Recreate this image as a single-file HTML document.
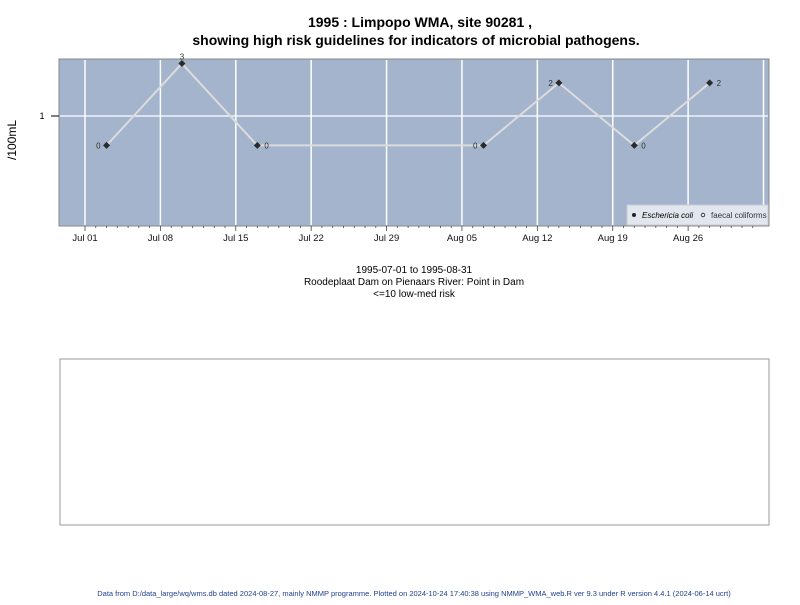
<!DOCTYPE html>
<html><head><meta charset="utf-8"><style>
body{margin:0;background:#fff;width:800px;height:600px;overflow:hidden;font-family:"Liberation Sans",sans-serif}
</style></head><body>
<svg width="800" height="600" xmlns="http://www.w3.org/2000/svg">
<text x="420" y="27" text-anchor="middle" font-size="14" font-weight="bold">1995 : Limpopo WMA, site 90281 ,</text>
<text x="416" y="45" text-anchor="middle" font-size="14" font-weight="bold">showing high risk guidelines for indicators of microbial pathogens.</text>
<rect x="59" y="59" width="710" height="167" fill="#a3b4cc" stroke="#8a8a8a"/>
<g id="grid"></g>
<g id="axis"></g>
<g id="series"></g>
<text x="16" y="140" transform="rotate(-90 16 140)" text-anchor="middle" font-size="12">/100mL</text>
<g>
<rect x="627" y="205" width="141" height="20" fill="#e2e6ee" stroke="#c8ccd4"/>
<circle cx="634" cy="215" r="2" fill="#222"/>
<text x="642" y="218" font-size="8" font-style="italic">Eschericia coli</text>
<circle cx="703" cy="215" r="1.8" fill="none" stroke="#222" stroke-width="0.8"/>
<text x="711" y="218" font-size="8" fill="#334">faecal coliforms</text>
</g>
<text x="414" y="273" text-anchor="middle" font-size="10">1995-07-01 to 1995-08-31</text>
<text x="414" y="285" text-anchor="middle" font-size="10">Roodeplaat Dam on Pienaars River: Point in Dam</text>
<text x="414" y="297" text-anchor="middle" font-size="10">&lt;=10 low-med risk</text>
<rect x="60" y="359" width="709" height="166" fill="#fff" stroke="#999"/>
<text x="414" y="596" text-anchor="middle" font-size="7.5" fill="#1f3f8f">Data from D:/data_large/wq/wms.db dated 2024-08-27, mainly NMMP programme. Plotted on 2024-10-24 17:40:38 using NMMP_WMA_web.R ver 9.3 under R version 4.4.1 (2024-06-14 ucrt)</text>
</svg>
<script>
const dates=["1995-07-03","1995-07-10","1995-07-17","1995-08-07","1995-08-14","1995-08-21","1995-08-28"];
const ecoli=[0,3,0,0,2,0,2];
const tickLabels=["Jul 01","Jul 08","Jul 15","Jul 22","Jul 29","Aug 05","Aug 12","Aug 19","Aug 26"];
const yTicks=[1];
const NS="http://www.w3.org/2000/svg";
const d0=Date.UTC(1995,6,1);
function day(s){const p=s.split("-");return (Date.UTC(+p[0],+p[1]-1,+p[2])-d0)/864e5;}
function X(d){return 85+d*10.77;}
function Y(v){const vv=v<=0?0.54:v;return 116-Math.log10(vv)*110;}
function mk(t,a,parent,txt){const e=document.createElementNS(NS,t);for(const k in a)e.setAttribute(k,a[k]);if(txt!=null)e.textContent=txt;parent.appendChild(e);return e;}
const grid=document.getElementById("grid"),axis=document.getElementById("axis"),ser=document.getElementById("series");
for(let i=0;i<=9;i++){const x=X(i*7);if(x>769)break;
const g=mk("line",{x1:x,x2:x,y1:60,y2:225,stroke:"#fff","stroke-width":1.5},grid);

}
yTicks.forEach(v=>{const y=Y(v);
const g=mk("line",{x1:60,x2:768,y1:y,y2:y,stroke:"#fff","stroke-width":1.2},grid);


const t=mk("line",{x1:51,x2:59,y1:y,y2:y,stroke:"#000"},axis);


const l=mk("text",{x:42,y:y+3,"font-size":9,"text-anchor":"middle"},axis,String(v));

});
for(let d=0;d<=62;d++){const x=X(d);if(x<59||x>769)continue;const major=d%7===0;
const t=mk("line",{x1:x,x2:x,y1:226,y2:major?231:228,stroke:"#444","stroke-width":0.8},axis);

}
tickLabels.forEach((s,i)=>{const l=mk("text",{x:X(i*7),y:241,"font-size":9.5,"text-anchor":"middle",fill:"#111"},axis,s);

});
const pts=dates.map((d,i)=>[X(day(d)),Y(ecoli[i])]);
const pl=mk("polyline",{points:pts.map(p=>p.join(",")).join(" "),fill:"none",stroke:"#dcdcdc","stroke-width":2},ser);


pts.forEach((p,i)=>{
const c=mk("path",{d:`M${p[0]-3.5},${p[1]} L${p[0]},${p[1]-3.5} L${p[0]+3.5},${p[1]} L${p[0]},${p[1]+3.5}Z`,fill:"#2b2b2b"},ser);


let lx,ly,anc;
if(i===1){lx=p[0];ly=p[1]-4;anc="middle";}
else if(i===0||i===3||i===4){lx=p[0]-6;ly=p[1]+3;anc="end";}
else{lx=p[0]+7;ly=p[1]+3;anc="start";}
const l=mk("text",{x:lx,y:ly,"font-size":8,"text-anchor":anc,fill:"#333"},ser,String(ecoli[i]));

});
</script>
</body></html>
